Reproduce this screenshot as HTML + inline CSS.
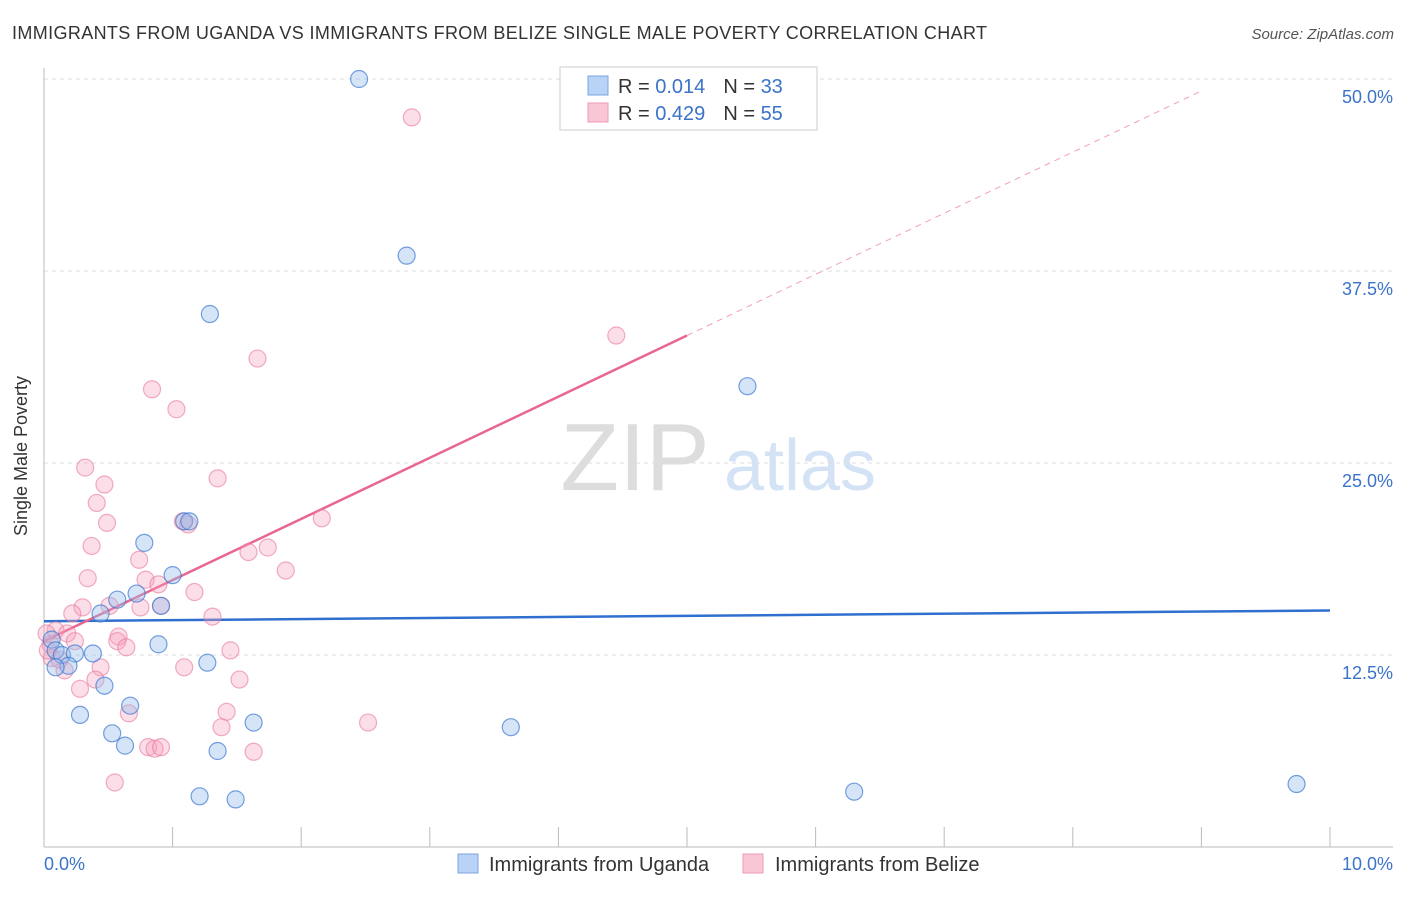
<!DOCTYPE html>
<html><head><meta charset="utf-8"><style>
body{margin:0;background:#fff;font-family:"Liberation Sans",sans-serif}
svg text{font-family:"Liberation Sans",sans-serif}
</style></head><body>
<svg id="chart" width="1406" height="892">
<text x="12" y="39" font-size="18" fill="#333" textLength="975">IMMIGRANTS FROM UGANDA VS IMMIGRANTS FROM BELIZE SINGLE MALE POVERTY CORRELATION CHART</text>
<text x="1394" y="39" font-size="15" fill="#555" font-style="italic" text-anchor="end">Source: ZipAtlas.com</text>
<g><text x="635" y="490" font-size="96" fill="#ddd" font-family="Liberation Serif" text-anchor="middle">ZIP</text><text x="800" y="490" font-size="72" fill="#d3e3f5" text-anchor="middle">atlas</text></g>
<g id="grid"></g>
<line x1="44" y1="68" x2="44" y2="847" stroke="#bbb"/>
<line x1="44" y1="847" x2="1393" y2="847" stroke="#bbb"/>
<text x="27" y="456" font-size="18" fill="#333" text-anchor="middle" transform="rotate(-90 27 456)">Single Male Poverty</text>
<text x="44" y="870" font-size="18" fill="#3b73c9">0.0%</text>
<text x="1393" y="870" font-size="18" fill="#3b73c9" text-anchor="end">10.0%</text>
<g id="lines"></g><g id="points"></g>
<g>
<rect x="560" y="67" width="257" height="63" fill="#fff" stroke="#ccc"/>
<rect x="588" y="76" width="20" height="19" fill="#b8d3f5" stroke="#7aa6e0"/>
<rect x="588" y="103" width="20" height="19" fill="#f9c6d5" stroke="#ee9ab3"/>
<text x="618" y="93" font-size="20" fill="#333">R = <tspan fill="#3b73c9">0.014</tspan><tspan dx="18">N = </tspan><tspan fill="#3b73c9">33</tspan></text>
<text x="618" y="120" font-size="20" fill="#333">R = <tspan fill="#3b73c9">0.429</tspan><tspan dx="18">N = </tspan><tspan fill="#3b73c9">55</tspan></text>
</g>
<g>
<rect x="458" y="854" width="20" height="19" fill="#b8d3f5" stroke="#7aa6e0"/>
<text x="489" y="871" font-size="20" fill="#333">Immigrants from Uganda</text>
<rect x="743" y="854" width="20" height="19" fill="#f9c6d5" stroke="#ee9ab3"/>
<text x="775" y="871" font-size="20" fill="#333">Immigrants from Belize</text>
</g>
</svg>
<script>
const yTicks=[12.5,25,37.5,50];
const yTickLabels=["12.5%","25.0%","37.5%","50.0%"];
const xTicks=[0,1,2,3,4,5,6,7,8,9,10];
const ugandaX=[2.45,2.82,1.29,5.47,1.09,1.13,0.78,1.00,0.72,0.57,0.44,0.91,0.89,0.06,0.09,0.14,0.24,0.38,0.19,0.09,1.27,0.47,0.28,0.67,0.53,0.63,1.35,1.63,3.63,1.21,1.49,6.30,9.74];
const ugandaY=[50.0,38.5,34.7,30.0,21.2,21.2,19.8,17.7,16.5,16.1,15.2,15.7,13.2,13.5,12.8,12.5,12.6,12.6,11.8,11.7,12.0,10.5,8.6,9.2,7.4,6.6,6.25,8.1,7.8,3.3,3.1,3.6,4.1];
const belizeX=[2.86,4.45,1.66,0.84,1.03,0.32,1.35,0.47,0.41,0.49,1.08,1.12,2.16,0.37,1.74,1.59,0.74,0.34,1.88,0.79,0.89,1.17,0.30,0.51,0.75,0.91,0.22,1.31,0.09,0.18,0.58,0.24,0.57,0.64,1.45,0.05,0.06,0.16,0.44,1.09,0.40,1.52,0.28,0.66,1.42,1.38,2.52,0.81,0.86,0.91,1.63,0.55,0.02,0.03,0.12];
const belizeY=[47.5,33.3,31.8,29.8,28.5,24.7,24.0,23.6,22.4,21.1,21.2,21.0,21.4,19.6,19.5,19.2,18.7,17.5,18.0,17.4,17.1,16.6,15.6,15.7,15.6,15.7,15.2,15.0,14.1,13.9,13.7,13.4,13.4,13.0,12.8,13.2,12.3,11.5,11.7,11.7,10.9,10.9,10.3,8.7,8.8,7.8,8.1,6.5,6.4,6.5,6.2,4.2,13.9,12.8,12.2];
const ugandaTrend=[14.7,15.4];
const belizeTrend=[13.4,3.98];
const sx=v=>44+v*128.6, sy=v=>847-v*15.36;
const NS="http://www.w3.org/2000/svg";
function mk(t,a,p){const e=document.createElementNS(NS,t);for(const k in a)e.setAttribute(k,a[k]);p.appendChild(e);return e;}
const grid=document.getElementById('grid');
yTicks.forEach((t,i)=>{
 const l=mk('line',{x1:44,x2:1393,y1:sy(t),y2:sy(t),stroke:'#ddd','stroke-dasharray':'4 4'},grid);
 
 
 const tx=mk('text',{x:1393,y:sy(t)+24,'font-size':18,fill:'#3b73c9','text-anchor':'end'},grid);
 tx.textContent=yTickLabels[i];
 
 
});
xTicks.forEach(t=>{
 const l=mk('line',{x1:sx(t),x2:sx(t),y1:827,y2:847,stroke:'#bbb'},grid);
 
 
});
const pts=document.getElementById('points');
belizeX.forEach((x,i)=>{
 const c=mk('circle',{cx:sx(x),cy:sy(belizeY[i]),r:8.5,fill:'rgba(246,160,188,0.35)',stroke:'rgba(232,120,155,0.6)','stroke-width':1.2},pts);
 
 
});
ugandaX.forEach((x,i)=>{
 const c=mk('circle',{cx:sx(x),cy:sy(ugandaY[i]),r:8.5,fill:'rgba(150,190,235,0.4)',stroke:'rgba(60,120,210,0.7)','stroke-width':1.2},pts);
 
 
});
const ln=document.getElementById('lines');
const ut=mk('line',{x1:sx(0),y1:sy(ugandaTrend[0]),x2:sx(10),y2:sy(ugandaTrend[1]),stroke:'#2f6fd0','stroke-width':2.5},ln);


const bf=x=>belizeTrend[0]+belizeTrend[1]*x;
const xEnd=9.0;
const bt=mk('line',{x1:sx(0),y1:sy(bf(0)),x2:sx(5),y2:sy(bf(5)),stroke:'#e8668f','stroke-width':2.5},ln);


const bd=mk('line',{x1:sx(5),y1:sy(bf(5)),x2:sx(xEnd),y2:sy(bf(xEnd)),stroke:'#f0a0b8','stroke-width':1,'stroke-dasharray':'6 5'},ln);


</script>
</body></html>
